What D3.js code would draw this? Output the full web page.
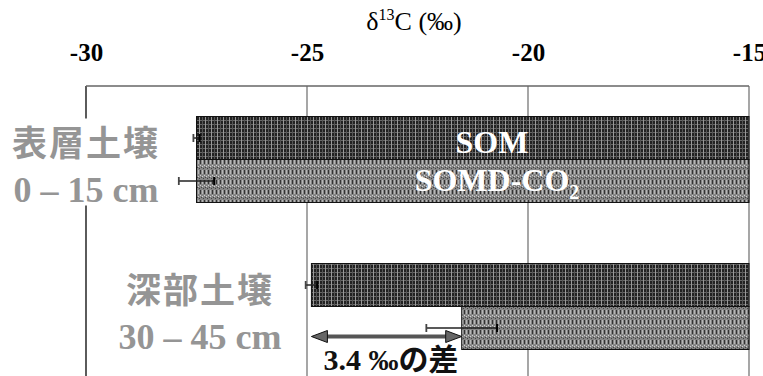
<!DOCTYPE html>
<html>
<head>
<meta charset="utf-8">
<script src="https://cdn.jsdelivr.net/npm/d3@7/dist/d3.min.js"></script>
<style>
  html, body { margin: 0; padding: 0; background: #fff; }
  svg { display: block; }
</style>
</head>
<body>
<svg id="chart" width="763" height="376"></svg>
<script>
// δ13C of soil organic matter (SOM) and SOM-derived CO2, by soil depth
const layers = ["表層土壌", "深部土壌"];
const depths = ["0 – 15 cm", "30 – 45 cm"];
const series = ["SOM", "SOMD-CO2"];
const somValues = [-27.5, -24.9];
const somdValues = [-27.5, -21.5];
const somErrors = [0.07, 0.13];
const somdErrors = [0.4, 0.8];
const xTicks = [-30, -25, -20, -15];

const W = 763, H = 376;
const plotLeft = 86, plotRight = 749, plotTop = 86, plotBottom = 380;
const serif = "'Liberation Serif', 'Times New Roman', serif";
const cjk = "'Liberation Serif', 'Noto Sans CJK JP', serif";

const svg = d3.select("#chart");
const defs = svg.append("defs");

// dense plaid texture for SOM bars
const p1 = defs.append("pattern").attr("id", "patSom")
  .attr("patternUnits", "userSpaceOnUse").attr("width", 6).attr("height", 4);
p1.append("rect").attr("width", 6).attr("height", 4).attr("fill", "#222");
p1.append("rect").attr("x", 0).attr("y", 0).attr("width", 6).attr("height", 1).attr("fill", "#666");
p1.append("rect").attr("x", 1).attr("y", 0).attr("width", 1).attr("height", 4).attr("fill", "#999");
p1.append("rect").attr("x", 4).attr("y", 0).attr("width", 1).attr("height", 4).attr("fill", "#555");

// mottled grey texture for SOMD-CO2 bars
const p2 = defs.append("pattern").attr("id", "patSomd")
  .attr("patternUnits", "userSpaceOnUse").attr("width", 4).attr("height", 10);
p2.append("rect").attr("width", 4).attr("height", 10).attr("fill", "#858585");
p2.append("rect").attr("x", 0).attr("y", 0).attr("width", 1).attr("height", 4).attr("fill", "#333");
p2.append("rect").attr("x", 2).attr("y", 0).attr("width", 1).attr("height", 4).attr("fill", "#b8b8b8");
p2.append("rect").attr("x", 0).attr("y", 5).attr("width", 1).attr("height", 1).attr("fill", "#d0d0d0");
p2.append("rect").attr("x", 2).attr("y", 6).attr("width", 1).attr("height", 1).attr("fill", "#d0d0d0");
p2.append("rect").attr("x", 1).attr("y", 7).attr("width", 1).attr("height", 1).attr("fill", "#444");
p2.append("rect").attr("x", 3).attr("y", 8).attr("width", 1).attr("height", 1).attr("fill", "#444");

const x = d3.scaleLinear().domain([-30, -15]).range([plotLeft, plotRight]);
const y = d3.scaleBand().domain(layers).range([plotTop, plotBottom]).padding(0);
const ySub = d3.scaleBand().domain(series).range([0, y.bandwidth()])
  .paddingInner(0).paddingOuter(0.71);

// title
const title = svg.append("text")
  .attr("x", 414).attr("y", 30)
  .attr("text-anchor", "middle")
  .attr("font-family", serif).attr("font-size", 26).attr("fill", "#000");
title.append("tspan").text("δ");
title.append("tspan").attr("dy", -10).attr("font-size", 16).text("13");
title.append("tspan").attr("dy", 10).text("C (‰)");

// top axis labels (plain hyphen for negatives)
const axis = svg.append("g").attr("transform", `translate(0,${plotTop - 25})`)
  .call(d3.axisTop(x).tickValues(xTicks).tickSize(0).tickPadding(0)
    .tickFormat(d => String(d)));
axis.select(".domain").remove();
axis.selectAll("text")
  .attr("font-family", serif).attr("font-size", 25).attr("font-weight", "bold")
  .attr("fill", "#000").attr("dy", 0);

// frame and gridlines
svg.append("g").selectAll("line").data(xTicks).join("line")
  .attr("x1", d => x(d)).attr("x2", d => x(d))
  .attr("y1", plotTop).attr("y2", H)
  .attr("stroke", d => (d === -30 ? "#333" : "#777"))
  .attr("stroke-width", d => (d === -30 ? 1.6 : 1.3));
svg.append("line").attr("x1", plotLeft).attr("x2", plotRight)
  .attr("y1", plotTop).attr("y2", plotTop)
  .attr("stroke", "#666").attr("stroke-width", 1.3);

// bars
const rows = [];
layers.forEach((l, i) => {
  rows.push({ layer: l, s: "SOM", v: somValues[i], e: somErrors[i], fill: "url(#patSom)" });
  rows.push({ layer: l, s: "SOMD-CO2", v: somdValues[i], e: somdErrors[i], fill: "url(#patSomd)" });
});

svg.append("g").selectAll("rect").data(rows).join("rect")
  .attr("x", d => x(d.v))
  .attr("width", d => x(-15) - x(d.v))
  .attr("y", d => y(d.layer) + ySub(d.s))
  .attr("height", ySub.bandwidth())
  .attr("fill", d => d.fill)
  .attr("stroke", "#111").attr("stroke-width", 1);

// error bars
const eb = svg.append("g").selectAll("g").data(rows).join("g")
  .attr("transform", d => `translate(0,${y(d.layer) + ySub(d.s) + ySub.bandwidth() / 2})`);
eb.append("line")
  .attr("x1", d => x(d.v - d.e)).attr("x2", d => x(d.v + d.e))
  .attr("stroke", "#222").attr("stroke-width", 1.5);
eb.append("line")
  .attr("x1", d => x(d.v - d.e)).attr("x2", d => x(d.v - d.e))
  .attr("y1", -4).attr("y2", 4).attr("stroke", "#444").attr("stroke-width", 1.8);
eb.append("line")
  .attr("x1", d => x(d.v + d.e)).attr("x2", d => x(d.v + d.e))
  .attr("y1", -4).attr("y2", 4).attr("stroke", "#000").attr("stroke-width", 2);

// series labels inside the upper bars
const g0 = layers[0];
svg.append("text")
  .attr("x", 492).attr("y", y(g0) + ySub("SOM") + ySub.bandwidth() / 2 + 15)
  .attr("text-anchor", "middle")
  .attr("font-family", serif).attr("font-weight", "bold").attr("font-size", 32)
  .attr("fill", "#fff").text(series[0]);
const lab2 = svg.append("text")
  .attr("x", 497).attr("y", y(g0) + ySub("SOMD-CO2") + ySub.bandwidth() / 2 + 10)
  .attr("text-anchor", "middle")
  .attr("font-family", serif).attr("font-weight", "bold").attr("font-size", 32)
  .attr("fill", "#fff");
lab2.append("tspan").text("SOMD-CO");
lab2.append("tspan").attr("dy", 8).attr("font-size", 20).text("2");

// depth labels
const labelX = [86, 200];
layers.forEach((l, i) => {
  const cy = y(l) + y.bandwidth() / 2;
  const g = svg.append("g");
  const bg = g.append("rect").attr("fill", "#fff");
  const t1 = g.append("text")
    .attr("x", labelX[i]).attr("y", cy - 4)
    .attr("text-anchor", "middle")
    .attr("font-family", "'Noto Sans CJK JP', sans-serif").attr("font-weight", "bold")
    .attr("font-size", 35).attr("letter-spacing", 2).attr("fill", "#959595").text(l);
  const t2 = g.append("text")
    .attr("x", labelX[i]).attr("y", cy + 42)
    .attr("text-anchor", "middle")
    .attr("font-family", serif).attr("font-weight", "bold")
    .attr("font-size", 36).attr("fill", "#959595").text(depths[i]);
  const b1 = t1.node().getBBox(), b2 = t2.node().getBBox();
  const x0 = Math.min(b1.x, b2.x) - 4, x1 = Math.max(b1.x + b1.width, b2.x + b2.width) + 4;
  bg.attr("x", x0).attr("width", x1 - x0)
    .attr("y", b1.y + 4).attr("height", b2.y + b2.height - b1.y - 8);
});

// difference arrow between deep-soil SOM and SOMD-CO2
const ax0 = x(somValues[1]), ax1 = x(somdValues[1]);
const ay = y(layers[1]) + y.bandwidth() / 2 + 30;
const head = 16, hh = 6;
svg.append("line")
  .attr("x1", ax0 + head - 2).attr("x2", ax1 - head + 2)
  .attr("y1", ay).attr("y2", ay)
  .attr("stroke", "#555").attr("stroke-width", 4);
svg.append("path")
  .attr("d", `M${ax0},${ay} L${ax0 + head},${ay - hh} L${ax0 + head},${ay + hh} Z
              M${ax1},${ay} L${ax1 - head},${ay - hh} L${ax1 - head},${ay + hh} Z`)
  .attr("fill", "#666").attr("stroke", "#111").attr("stroke-width", 1);
svg.append("text")
  .attr("x", ax0 + 12).attr("y", ay + 33)
  .attr("font-family", cjk).attr("font-weight", "bold").attr("font-size", 30)
  .attr("fill", "#111")
  .text(`${(somdValues[1] - somValues[1]).toFixed(1)} ‰の差`);
</script>
</body>
</html>
